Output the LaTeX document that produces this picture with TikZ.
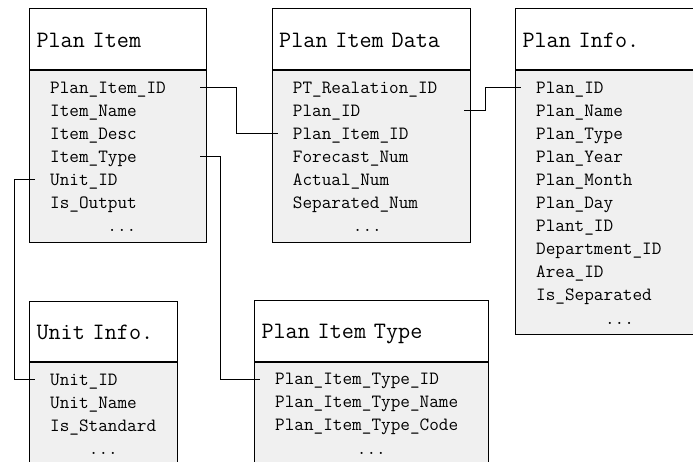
\documentclass[tikz,border=0pt]{standalone}
\usepackage{fontspec}
\usetikzlibrary{calc,positioning}
\definecolor{rowfill}{RGB}{240,240,240}
\tikzset{
  tabhead/.style={draw,line width=1pt,fill=white,anchor=north west,inner xsep=7pt,align=left,
    text height=18pt,text depth=2pt,font=\ttfamily\fontsize{23.5}{25}\selectfont},
  tabbody/.style={draw,line width=1pt,fill=rowfill,anchor=north west,inner sep=0pt},
  field/.style={anchor=west,inner xsep=15pt,inner ysep=0pt,align=left,
    text height=14pt,text depth=3pt,font=\ttfamily\fontsize{18.7}{20}\selectfont},
  more/.style={field,anchor=center,align=center},
  link/.style={line width=0.9pt}
}
\begin{document}
\begin{tikzpicture}[x=1pt,y=-1pt]
    \useasboundingbox (0,0) rectangle (693,461);
    \pgfmathsetmacro{\rowA}{17.5}
    \pgfmathsetmacro{\rowH}{23.1}

    % Plan Item
    \node[tabhead,minimum width=176.7pt,minimum height=60.7pt,text width=162.7pt] (pi-h) at (29,8.3) {Plan Item};
    \node[tabbody,minimum width=176.7pt,minimum height=171.7pt] (pi-b) at (pi-h.south west) {};
    \foreach \f [count=\i] in {Plan\_Item\_ID,Item\_Name,Item\_Desc,Item\_Type,Unit\_ID,Is\_Output}
      \node[field,text width=134.7pt] (pi-\i) at ($(pi-b.north west)+(6,{\rowA+(\i-1)*\rowH})$) {\f};
    \node[more] (pi-m) at ($(pi-b.north)+(4,{\rowA+6*\rowH})$) {...};

    % Plan Item Data
    \node[tabhead,minimum width=198.3pt,minimum height=60.7pt,text width=184.3pt] (pd-h) at (271.7,8.3) {Plan Item Data};
    \node[tabbody,minimum width=198.3pt,minimum height=171.7pt] (pd-b) at (pd-h.south west) {};
    \foreach \f [count=\i] in {PT\_Realation\_ID,Plan\_ID,Plan\_Item\_ID,Forecast\_Num,Actual\_Num,Separated\_Num}
      \node[field,text width=156.3pt] (pd-\i) at ($(pd-b.north west)+(6,{\rowA+(\i-1)*\rowH})$) {\f};
    \node[more] (pd-m) at ($(pd-b.north)+(-4,{\rowA+6*\rowH})$) {...};

    % Plan Info.
    \node[tabhead,minimum width=208pt,minimum height=60.7pt,text width=194pt] (pf-h) at (515,8.3) {Plan Info.};
    \node[tabbody,minimum width=208pt,minimum height=264.3pt] (pf-b) at (pf-h.south west) {};
    \foreach \f [count=\i] in {Plan\_ID,Plan\_Name,Plan\_Type,Plan\_Year,Plan\_Month,Plan\_Day,Plant\_ID,Department\_ID,Area\_ID,Is\_Separated}
      \node[field,text width=166pt] (pf-\i) at ($(pf-b.north west)+(6,{\rowA+(\i-1)*\rowH})$) {\f};
    \node[more] (pf-m) at ($(pf-b.north)+(0,{\rowA+10*\rowH})$) {...};

    % Unit Info.
    \node[tabhead,minimum width=147.7pt,minimum height=60pt,text width=133.7pt] (ui-h) at (29,301) {Unit Info.};
    \node[tabbody,minimum width=147.7pt,minimum height=130pt] (ui-b) at (ui-h.south west) {};
    \foreach \f [count=\i] in {Unit\_ID,Unit\_Name,Is\_Standard}
      \node[field,text width=110pt] (ui-\i) at ($(ui-b.north west)+(6,{\rowA+(\i-1)*\rowH})$) {\f};
    \node[more] (ui-m) at ($(ui-b.north)+(0,{\rowA+3*\rowH})$) {...};

    % Plan Item Type
    \node[tabhead,minimum width=233.7pt,minimum height=60.7pt,text width=219.7pt] (pt-h) at (254,300) {Plan Item Type};
    \node[tabbody,minimum width=233.7pt,minimum height=130pt] (pt-b) at (pt-h.south west) {};
    \foreach \f [count=\i] in {Plan\_Item\_Type\_ID,Plan\_Item\_Type\_Name,Plan\_Item\_Type\_Code}
      \node[field,text width=191.7pt] (pt-\i) at ($(pt-b.north west)+(6,{\rowA+(\i-1)*\rowH})$) {\f};
    \node[more] (pt-m) at ($(pt-b.north)+(0,{\rowA+3*\rowH})$) {...};

    % links
    \draw[link] (pi-1.east) -- ++(36,0) |- (pd-3.west);
    \draw[link] (pi-4.east) -- ++(20,0) |- (pt-1.west);
    \draw[link] (pi-5.west) -- ++(-21,0) |- (ui-1.west);
    \draw[link] (pd-2.east) -- ++(21,0) |- (pf-1.west);
\end{tikzpicture}
\end{document}
